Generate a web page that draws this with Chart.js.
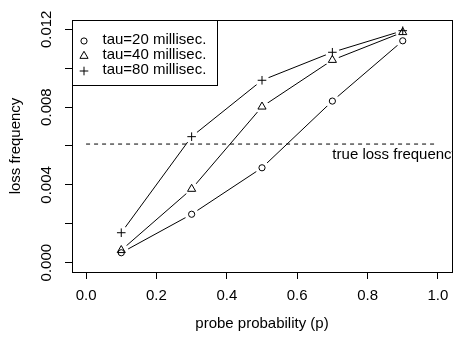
<!DOCTYPE html>
<html>
<head>
<meta charset="utf-8">
<script src="https://cdn.jsdelivr.net/npm/chart.js"></script>
<style>
  body { margin: 0; background: #fff; }
  canvas { display: block; }
</style>
</head>
<body>
<canvas id="lossChart" width="459" height="337"></canvas>
<script>
  // probe probability on x, measured loss frequency on y
  const probes = [0.1, 0.3, 0.5, 0.7, 0.9];
  const tau20 = [0.00051, 0.00249, 0.00488, 0.00831, 0.01141];
  const tau40 = [0.00064, 0.00379, 0.00802, 0.01042, 0.01185];
  const tau80 = [0.00154, 0.00648, 0.00938, 0.01082, 0.01193];
  const trueLoss = 0.0061;
  const seriesNames = ['tau=20 millisec.', 'tau=40 millisec.', 'tau=80 millisec.'];
  const xTicks = [0, 0.2, 0.4, 0.6, 0.8, 1.0];
  const yTicks = [0, 0.002, 0.004, 0.006, 0.008, 0.010, 0.012];
  const yLabels = [0, 0.004, 0.008, 0.012];

  const font = "'Liberation Sans', Arial, sans-serif";
  Chart.defaults.font.family = font;
  Chart.defaults.font.size = 15;
  Chart.defaults.color = '#000';

  const markers = [
    { pointStyle: 'circle', radius: 3.1 },
    { pointStyle: 'triangle', radius: 4.7 },
    { pointStyle: 'cross', radius: 4.3 }
  ];
  const allSeries = [tau20, tau40, tau80];
  const pts = s => probes.map((p, i) => ({ x: p, y: s[i] }));

  let datasets = [];
  allSeries.forEach((s, i) => {
    // connecting line
    datasets.push({ data: pts(s), borderColor: '#000', borderWidth: 1, pointRadius: 0, order: 4, showLine: true });
    // white gap around each point, like type="b"
    datasets.push({ data: pts(s), showLine: false, pointStyle: 'circle', pointRadius: 7,
      pointBackgroundColor: '#fff', pointBorderWidth: 0, pointBorderColor: '#fff', order: 3 });
    // the marker itself
    datasets.push({ data: pts(s), showLine: false, pointStyle: markers[i].pointStyle, pointRadius: markers[i].radius,
      pointBackgroundColor: 'rgba(0,0,0,0)', pointBorderColor: '#000', pointBorderWidth: 1, order: 2 });
  });
  datasets.push({ data: [{ x: 0, y: trueLoss }, { x: 1, y: trueLoss }], borderColor: '#000', borderWidth: 1,
    borderDash: [4, 4], pointRadius: 0, showLine: true, order: 1 });

  const extras = {
    id: 'extras',
    afterDatasetsDraw(chart) {
      const ctx = chart.ctx, a = chart.chartArea;
      const x = chart.scales.x, y = chart.scales.y;
      // label under the dashed line, clipped by the plot box
      ctx.save();
      ctx.beginPath();
      ctx.rect(a.left, a.top, a.right - a.left, a.bottom - a.top);
      ctx.clip();
      ctx.font = '15px ' + font;
      ctx.fillStyle = '#000';
      ctx.textAlign = 'left';
      ctx.textBaseline = 'alphabetic';
      ctx.fillText('true loss frequency', x.getPixelForValue(0.7), y.getPixelForValue(trueLoss) + 14.5);
      ctx.restore();
    },
    afterDraw(chart) {
      const ctx = chart.ctx, a = chart.chartArea;
      const y = chart.scales.y;
      ctx.save();
      ctx.strokeStyle = '#000';
      ctx.lineWidth = 1;
      const L = Math.round(a.left) + 0.5, T = Math.round(a.top) + 0.5;
      ctx.strokeRect(L, T, Math.round(a.right) - Math.round(a.left), Math.round(a.bottom) - Math.round(a.top));

      // rotated y tick labels
      ctx.font = '15px ' + font;
      ctx.fillStyle = '#000';
      yLabels.forEach(v => {
        ctx.save();
        ctx.translate(50.5, y.getPixelForValue(v));
        ctx.rotate(-Math.PI / 2);
        ctx.textAlign = 'center';
        ctx.textBaseline = 'alphabetic';
        ctx.fillText(v.toFixed(3), 0, 0);
        ctx.restore();
      });

      // legend
      ctx.fillStyle = '#fff';
      ctx.fillRect(L, T, 145, 65);
      ctx.strokeRect(L, T, 145, 65);
      seriesNames.forEach((name, i) => {
        ctx.strokeStyle = '#000';
        ctx.fillStyle = 'rgba(0,0,0,0)';
        ctx.lineWidth = 1;
        Chart.helpers.drawPoint(ctx, { pointStyle: markers[i].pointStyle, radius: markers[i].radius, rotation: 0, borderWidth: 1 },
          L + 11.5, T + 20.5 + 15 * i);
        ctx.fillStyle = '#000';
        ctx.textAlign = 'left';
        ctx.textBaseline = 'alphabetic';
        ctx.fillText(name, L + 30, T + 23.5 + 15 * i);
      });
      ctx.restore();
    }
  };

  new Chart(document.getElementById('lossChart'), {
    type: 'scatter',
    data: { datasets: datasets },
    options: {
      responsive: false,
      animation: false,
      layout: { padding: { top: 20, right: 6, left: 0, bottom: 0 } },
      plugins: { legend: { display: false }, tooltip: { enabled: false } },
      elements: { line: { tension: 0 } },
      scales: {
        x: {
          type: 'linear', min: -0.04, max: 1.04,
          afterBuildTicks: s => { s.ticks = xTicks.map(v => ({ value: v })); },
          afterFit: s => { s.height = 65; },
          ticks: { padding: 8, callback: v => v.toFixed(1), maxRotation: 0, autoSkip: false },
          grid: { drawOnChartArea: false, tickLength: 7, color: '#000', lineWidth: 1 },
          border: { display: true, color: '#000' },
          title: { display: true, text: 'probe probability (p)', padding: { top: 0, bottom: 4 } }
        },
        y: {
          type: 'linear', min: -0.00048, max: 0.01248,
          afterBuildTicks: s => { s.ticks = yTicks.map(v => ({ value: v })); },
          afterFit: s => { s.width = 72; },
          ticks: { display: false },
          grid: { drawOnChartArea: false, tickLength: 7, color: '#000', lineWidth: 1 },
          border: { display: true, color: '#000' },
          title: { display: true, text: 'loss frequency', padding: { top: 6.5, bottom: 0 } }
        }
      }
    },
    plugins: [extras]
  });
</script>
</body>
</html>
